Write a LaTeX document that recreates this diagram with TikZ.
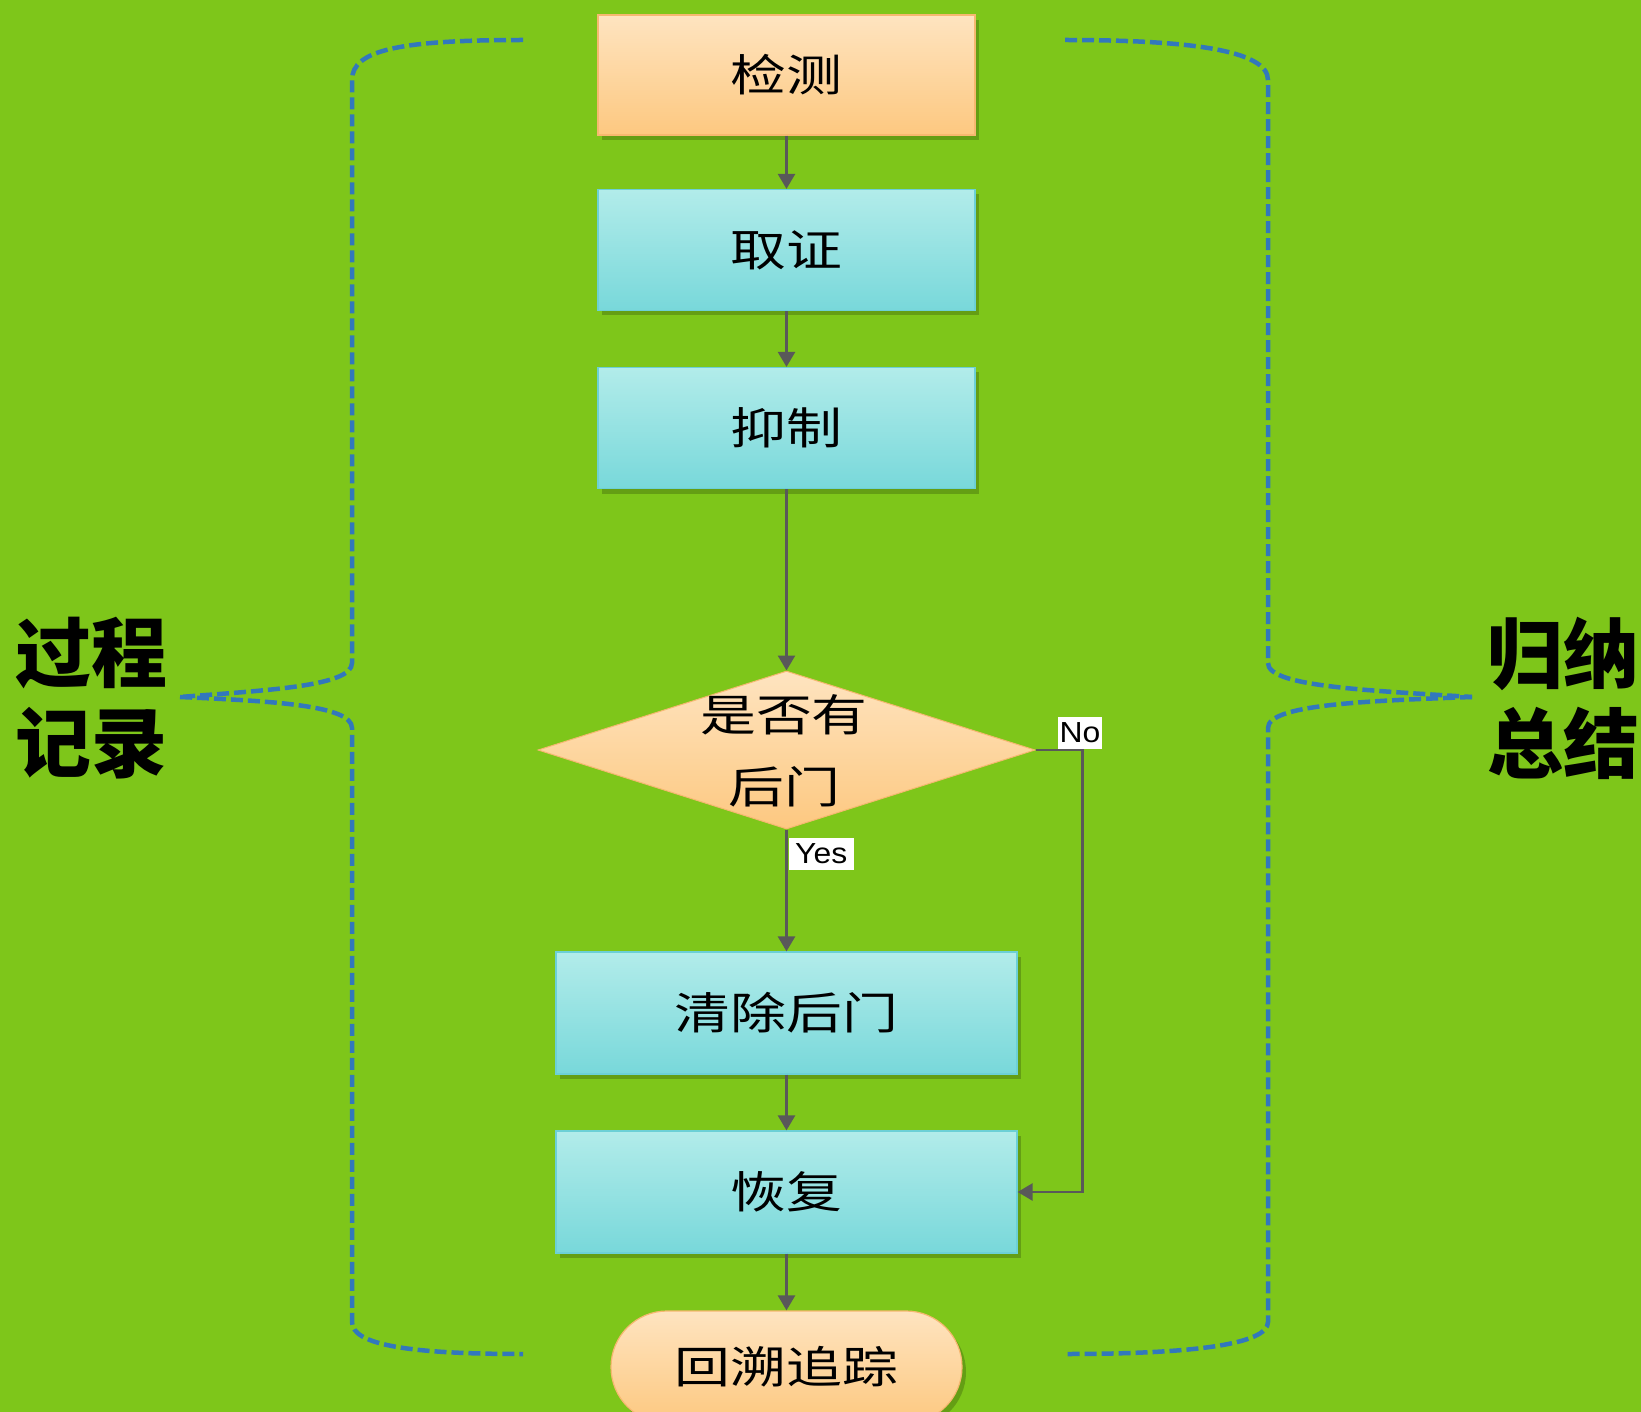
\documentclass[tikz,border=0pt]{standalone}
\usepackage{fontspec}
\setmainfont{Liberation Sans}
\newfontfamily\tagfont[FakeStretch=1.1]{Liberation Sans}
\newfontfamily\boxfont[FakeStretch=1.27]{Noto Sans CJK SC}
\newfontfamily\sidefont{Noto Sans CJK SC}
\usetikzlibrary{arrows.meta,shapes.geometric,shadows,calc}

\definecolor{bggreen}{RGB}{126,198,26}
\definecolor{orangetop}{RGB}{254,228,192}
\definecolor{orangebot}{RGB}{253,200,128}
\definecolor{orangeline}{RGB}{246,184,112}
\definecolor{cyantop}{RGB}{178,236,234}
\definecolor{cyanbot}{RGB}{120,216,218}
\definecolor{cyanline}{RGB}{108,208,214}
\definecolor{bracecol}{RGB}{50,120,188}
\definecolor{flowcol}{RGB}{89,89,89}

\begin{document}
\begin{tikzpicture}[x=1pt,y=-1pt,
  softshadow/.style={drop shadow={shadow xshift=4pt,shadow yshift=-5pt,opacity=0.2,fill=black}},
  boxtext/.style={font=\boxfont\fontsize{44}{72}\selectfont, text=black, align=center},
  orangebox/.style={rectangle, draw=orangeline, line width=1.2pt, top color=orangetop,
    bottom color=orangebot, minimum width=377pt, minimum height=120pt, inner sep=0pt,
    boxtext, softshadow},
  cyanbox/.style={rectangle, draw=cyanline, line width=1.2pt, top color=cyantop,
    bottom color=cyanbot, minimum width=377pt, minimum height=121pt, inner sep=0pt,
    boxtext, softshadow},
  widebox/.style={cyanbox, minimum width=461pt, minimum height=122pt},
  decision/.style={diamond, draw=orangeline, line width=1pt, top color=orangetop,
    bottom color=orangebot, minimum width=497pt, minimum height=158pt, inner sep=0pt},
  terminal/.style={rectangle, rounded corners=56pt, draw=orangeline, line width=1.2pt,
    top color=orangetop, bottom color=orangebot, minimum width=351pt, minimum height=112pt,
    inner sep=0pt, boxtext, softshadow},
  flow/.style={draw=flowcol, line width=2.6pt, -{Triangle[width=17pt,length=15pt]}},
  tag/.style={fill=white, text=black, font=\tagfont\fontsize{29}{29}\selectfont,
    inner xsep=2pt, inner ysep=2pt, minimum height=32pt},
  bracket/.style={draw=bracecol, line width=4.5pt, dash pattern=on 12pt off 5pt},
  sidelabel/.style={font=\sidefont\bfseries\fontsize{76}{90}\selectfont, text=black,
    align=center, inner sep=0pt}]

% canvas
\fill[bggreen] (0,0) rectangle (1641,1412);
\useasboundingbox (0,0) rectangle (1641,1412);

% flow steps
\node[orangebox] (detect)   at (786.5,75)   {检测};
\node[cyanbox]   (evidence) at (786.5,250)  {取证};
\node[cyanbox]   (contain)  at (786.5,428)  {抑制};
\node[decision]  (check)    at (786.5,750)  {};
\node[boxtext]   (checktxt) at (784,751)    {是否有\\后门};
\node[widebox]   (clean)    at (786.5,1013) {清除后门};
\node[widebox]   (restore)  at (786.5,1192) {恢复};
\node[terminal]  (trace)    at (786.5,1367) {回溯追踪};

% connectors
\draw[flow] (detect) -- (evidence);
\draw[flow] (evidence) -- (contain);
\draw[flow] (contain) -- (check.north);
\draw[flow] (check.south) -- (clean);
\draw[flow] (check.east) -- ++(47,0) coordinate (bend) |- (restore.east);
\draw[flow] (clean) -- (restore);
\draw[flow] (restore) -- (trace);

% branch tags
\node[tag, anchor=north west, minimum width=65pt] (yes) at ([xshift=2pt,yshift=-8pt]check.south) {Yes};
\node[tag, anchor=south west, minimum width=42pt] (no)  at ([xshift=22pt,yshift=1pt]check.east) {No};

% left bracket
\draw[bracket] (523,40) .. controls (400,40) and (352,50) .. (352,80)
  -- (352,663) .. controls (352,686) and (270,690) .. (180,697);
\draw[bracket] (180,697) .. controls (270,701) and (352,705) .. (352,728)
  -- (352,1322) .. controls (352,1345) and (410,1354) .. (523,1354);

% right bracket
\draw[bracket] (1065,40) .. controls (1188,40) and (1268,50) .. (1268,80)
  -- (1268,663) .. controls (1268,686) and (1360,690) .. (1472,697);
\draw[bracket] (1472,697) .. controls (1360,701) and (1268,705) .. (1268,728)
  -- (1268,1322) .. controls (1268,1345) and (1188,1354) .. (1065,1354);

% side labels
\node[sidelabel] (process) at (92,698)   {过程\\记录};
\node[sidelabel] (summary) at (1563,698) {归纳\\总结};
\end{tikzpicture}
\end{document}
